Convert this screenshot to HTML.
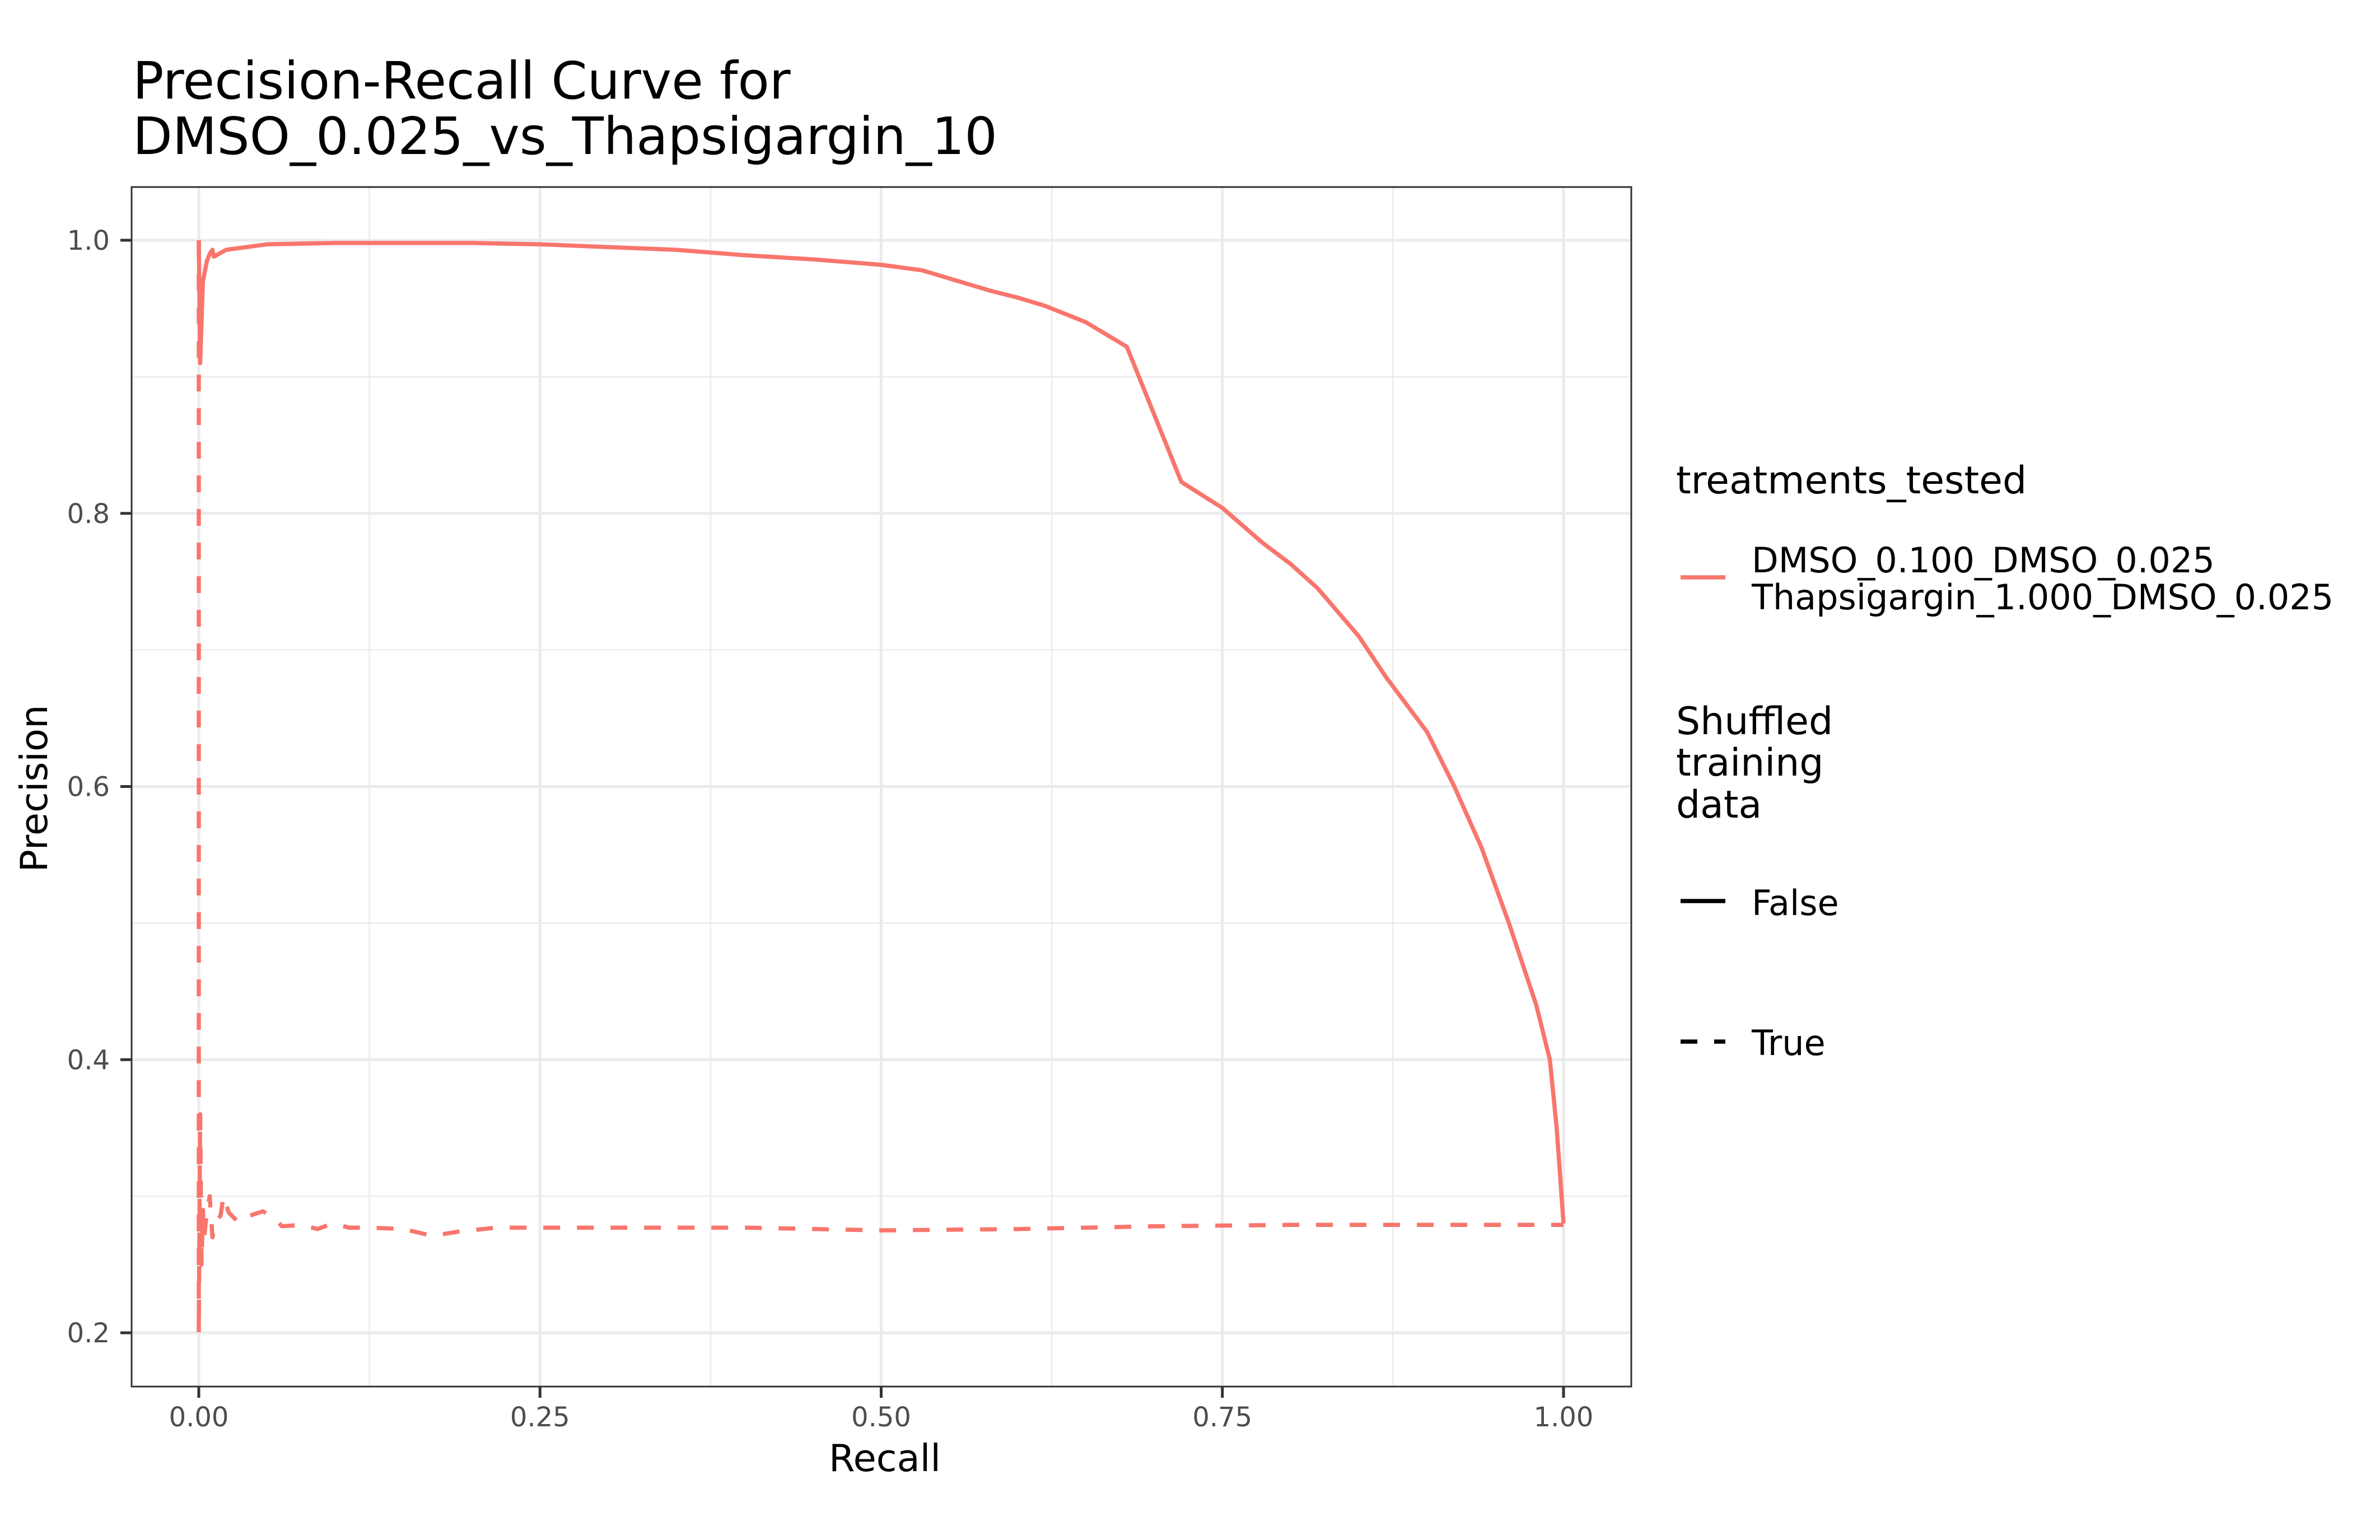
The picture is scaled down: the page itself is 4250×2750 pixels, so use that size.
<!DOCTYPE html>
<html><head><meta charset="utf-8"><style>
body{margin:0;background:#fff;}
svg{display:block;font-family:"DejaVu Sans","Liberation Sans",sans-serif;}
</style></head><body>
<svg id="chart" width="4250" height="2750" viewBox="0 0 4250 2750" xmlns="http://www.w3.org/2000/svg">
<rect width="4250" height="2750" fill="#fff"/>
<text x="237" y="176" font-size="92" fill="#000">Precision-Recall Curve for</text>
<text x="237" y="275" font-size="92" fill="#000">DMSO_0.025_vs_Thapsigargin_10</text>
<g id="grid"></g>
<g id="series"></g>
<rect x="235" y="334" width="2678" height="2142" fill="none" stroke="#333" stroke-width="3"/>
<g id="axes"></g>
<text x="1580" y="2627" font-size="67" text-anchor="middle" fill="#000">Recall</text>
<text transform="translate(84,1408) rotate(-90)" font-size="67" text-anchor="middle" fill="#000">Precision</text>
<g>
<text x="2993" y="881" font-size="68" fill="#000">treatments_tested</text>
<line x1="3001" y1="1031" x2="3081" y2="1031" stroke="#F8766D" stroke-width="7.5"/>
<text x="3128" y="1022" font-size="62" fill="#000">DMSO_0.100_DMSO_0.025</text>
<text x="3128" y="1088" font-size="62" fill="#000">Thapsigargin_1.000_DMSO_0.025</text>
<text x="2993" y="1311" font-size="68" fill="#000">Shuffled</text>
<text x="2993" y="1385" font-size="68" fill="#000">training</text>
<text x="2993" y="1460" font-size="68" fill="#000">data</text>
<line x1="3001" y1="1609" x2="3081" y2="1609" stroke="#000" stroke-width="7.5"/>
<text x="3128" y="1634" font-size="62" fill="#000">False</text>
<line x1="3001" y1="1860" x2="3081" y2="1860" stroke="#000" stroke-width="7.5" stroke-dasharray="30,30"/>
<text x="3128" y="1884" font-size="62" fill="#000">True</text>
</g>
</svg>
<script>
const xTicks=[0,0.25,0.5,0.75,1];
const xTickLabels=["0.00","0.25","0.50","0.75","1.00"];
const yTicks=[0.2,0.4,0.6,0.8,1.0];
const yTickLabels=["0.2","0.4","0.6","0.8","1.0"];
const solidRecall=[0,0.001,0.003,0.006,0.008,0.01,0.011,0.02,0.05,0.1,0.2,0.25,0.3,0.35,0.4,0.45,0.5,0.53,0.55,0.58,0.6,0.62,0.65,0.68,0.72,0.75,0.78,0.8,0.82,0.85,0.87,0.9,0.92,0.94,0.96,0.98,0.99,0.995,1.0];
const solidPrecision=[1.0,0.91,0.97,0.985,0.99,0.993,0.988,0.993,0.997,0.998,0.998,0.997,0.995,0.993,0.989,0.986,0.982,0.978,0.972,0.963,0.958,0.952,0.94,0.922,0.823,0.804,0.778,0.763,0.745,0.71,0.68,0.64,0.6,0.555,0.5,0.44,0.40,0.35,0.28];
const dashRecall=[0,0,0.001,0.002,0.003,0.004,0.006,0.008,0.01,0.012,0.016,0.018,0.022,0.029,0.035,0.047,0.055,0.061,0.075,0.087,0.098,0.11,0.125,0.15,0.171,0.19,0.218,0.3,0.4,0.5,0.6,0.7,0.8,0.9,1.0];
const dashPrecision=[1.0,0.2,0.36,0.25,0.29,0.27,0.29,0.30,0.27,0.28,0.286,0.30,0.288,0.281,0.285,0.289,0.284,0.278,0.279,0.276,0.280,0.277,0.277,0.276,0.271,0.274,0.277,0.277,0.277,0.275,0.276,0.278,0.279,0.279,0.279];
const X0=355,X1=2792,Y0=2380,Y1=429,PL=235,PR=2913,PT=334,PB=2476;
const sx=v=>X0+(X1-X0)*v;
const sy=v=>Y0+(Y1-Y0)*(v-0.2)/0.8;
const NS="http://www.w3.org/2000/svg";
function mk(tag,attrs,parent){const e=document.createElementNS(NS,tag);for(const k in attrs)e.setAttribute(k,attrs[k]);parent.appendChild(e);return e;}
const grid=document.getElementById('grid'),axes=document.getElementById('axes'),ser=document.getElementById('series');
for(let i=0;i<xTicks.length-1;i++){const m=(xTicks[i]+xTicks[i+1])/2;const l=mk('line',{x1:sx(m),x2:sx(m),y1:PT,y2:PB,stroke:'#ebebeb','stroke-width':2.5},grid);

}
for(let i=0;i<yTicks.length-1;i++){const m=(yTicks[i]+yTicks[i+1])/2;const l=mk('line',{x1:PL,x2:PR,y1:sy(m),y2:sy(m),stroke:'#ebebeb','stroke-width':2.5},grid);

}
xTicks.forEach((t,i)=>{const l=mk('line',{x1:sx(t),x2:sx(t),y1:PT,y2:PB,stroke:'#ebebeb','stroke-width':5},grid);


const k=mk('line',{x1:sx(t),x2:sx(t),y1:PB,y2:PB+20,stroke:'#333','stroke-width':5},axes);


const tx=mk('text',{x:sx(t),y:2547,'font-size':48,'text-anchor':'middle',fill:'#4d4d4d'},axes);tx.textContent=xTickLabels[i];

});
yTicks.forEach((t,i)=>{const l=mk('line',{x1:PL,x2:PR,y1:sy(t),y2:sy(t),stroke:'#ebebeb','stroke-width':5},grid);


const k=mk('line',{x1:PL-20,x2:PL,y1:sy(t),y2:sy(t),stroke:'#333','stroke-width':5},axes);


const tx=mk('text',{x:196,y:sy(t)+17,'font-size':48,'text-anchor':'end',fill:'#4d4d4d'},axes);tx.textContent=yTickLabels[i];

});
function pts(xs,ys){return xs.map((x,i)=>sx(x).toFixed(1)+','+sy(ys[i]).toFixed(1)).join(' ');}
const s1=mk('polyline',{points:pts(solidRecall,solidPrecision),fill:'none',stroke:'#F8766D','stroke-width':7.5,'stroke-linejoin':'round'},ser);


const s2=mk('polyline',{points:pts(dashRecall,dashPrecision),fill:'none',stroke:'#F8766D','stroke-width':7.5,'stroke-dasharray':'30,30','stroke-linejoin':'round'},ser);


</script>
</body></html>
